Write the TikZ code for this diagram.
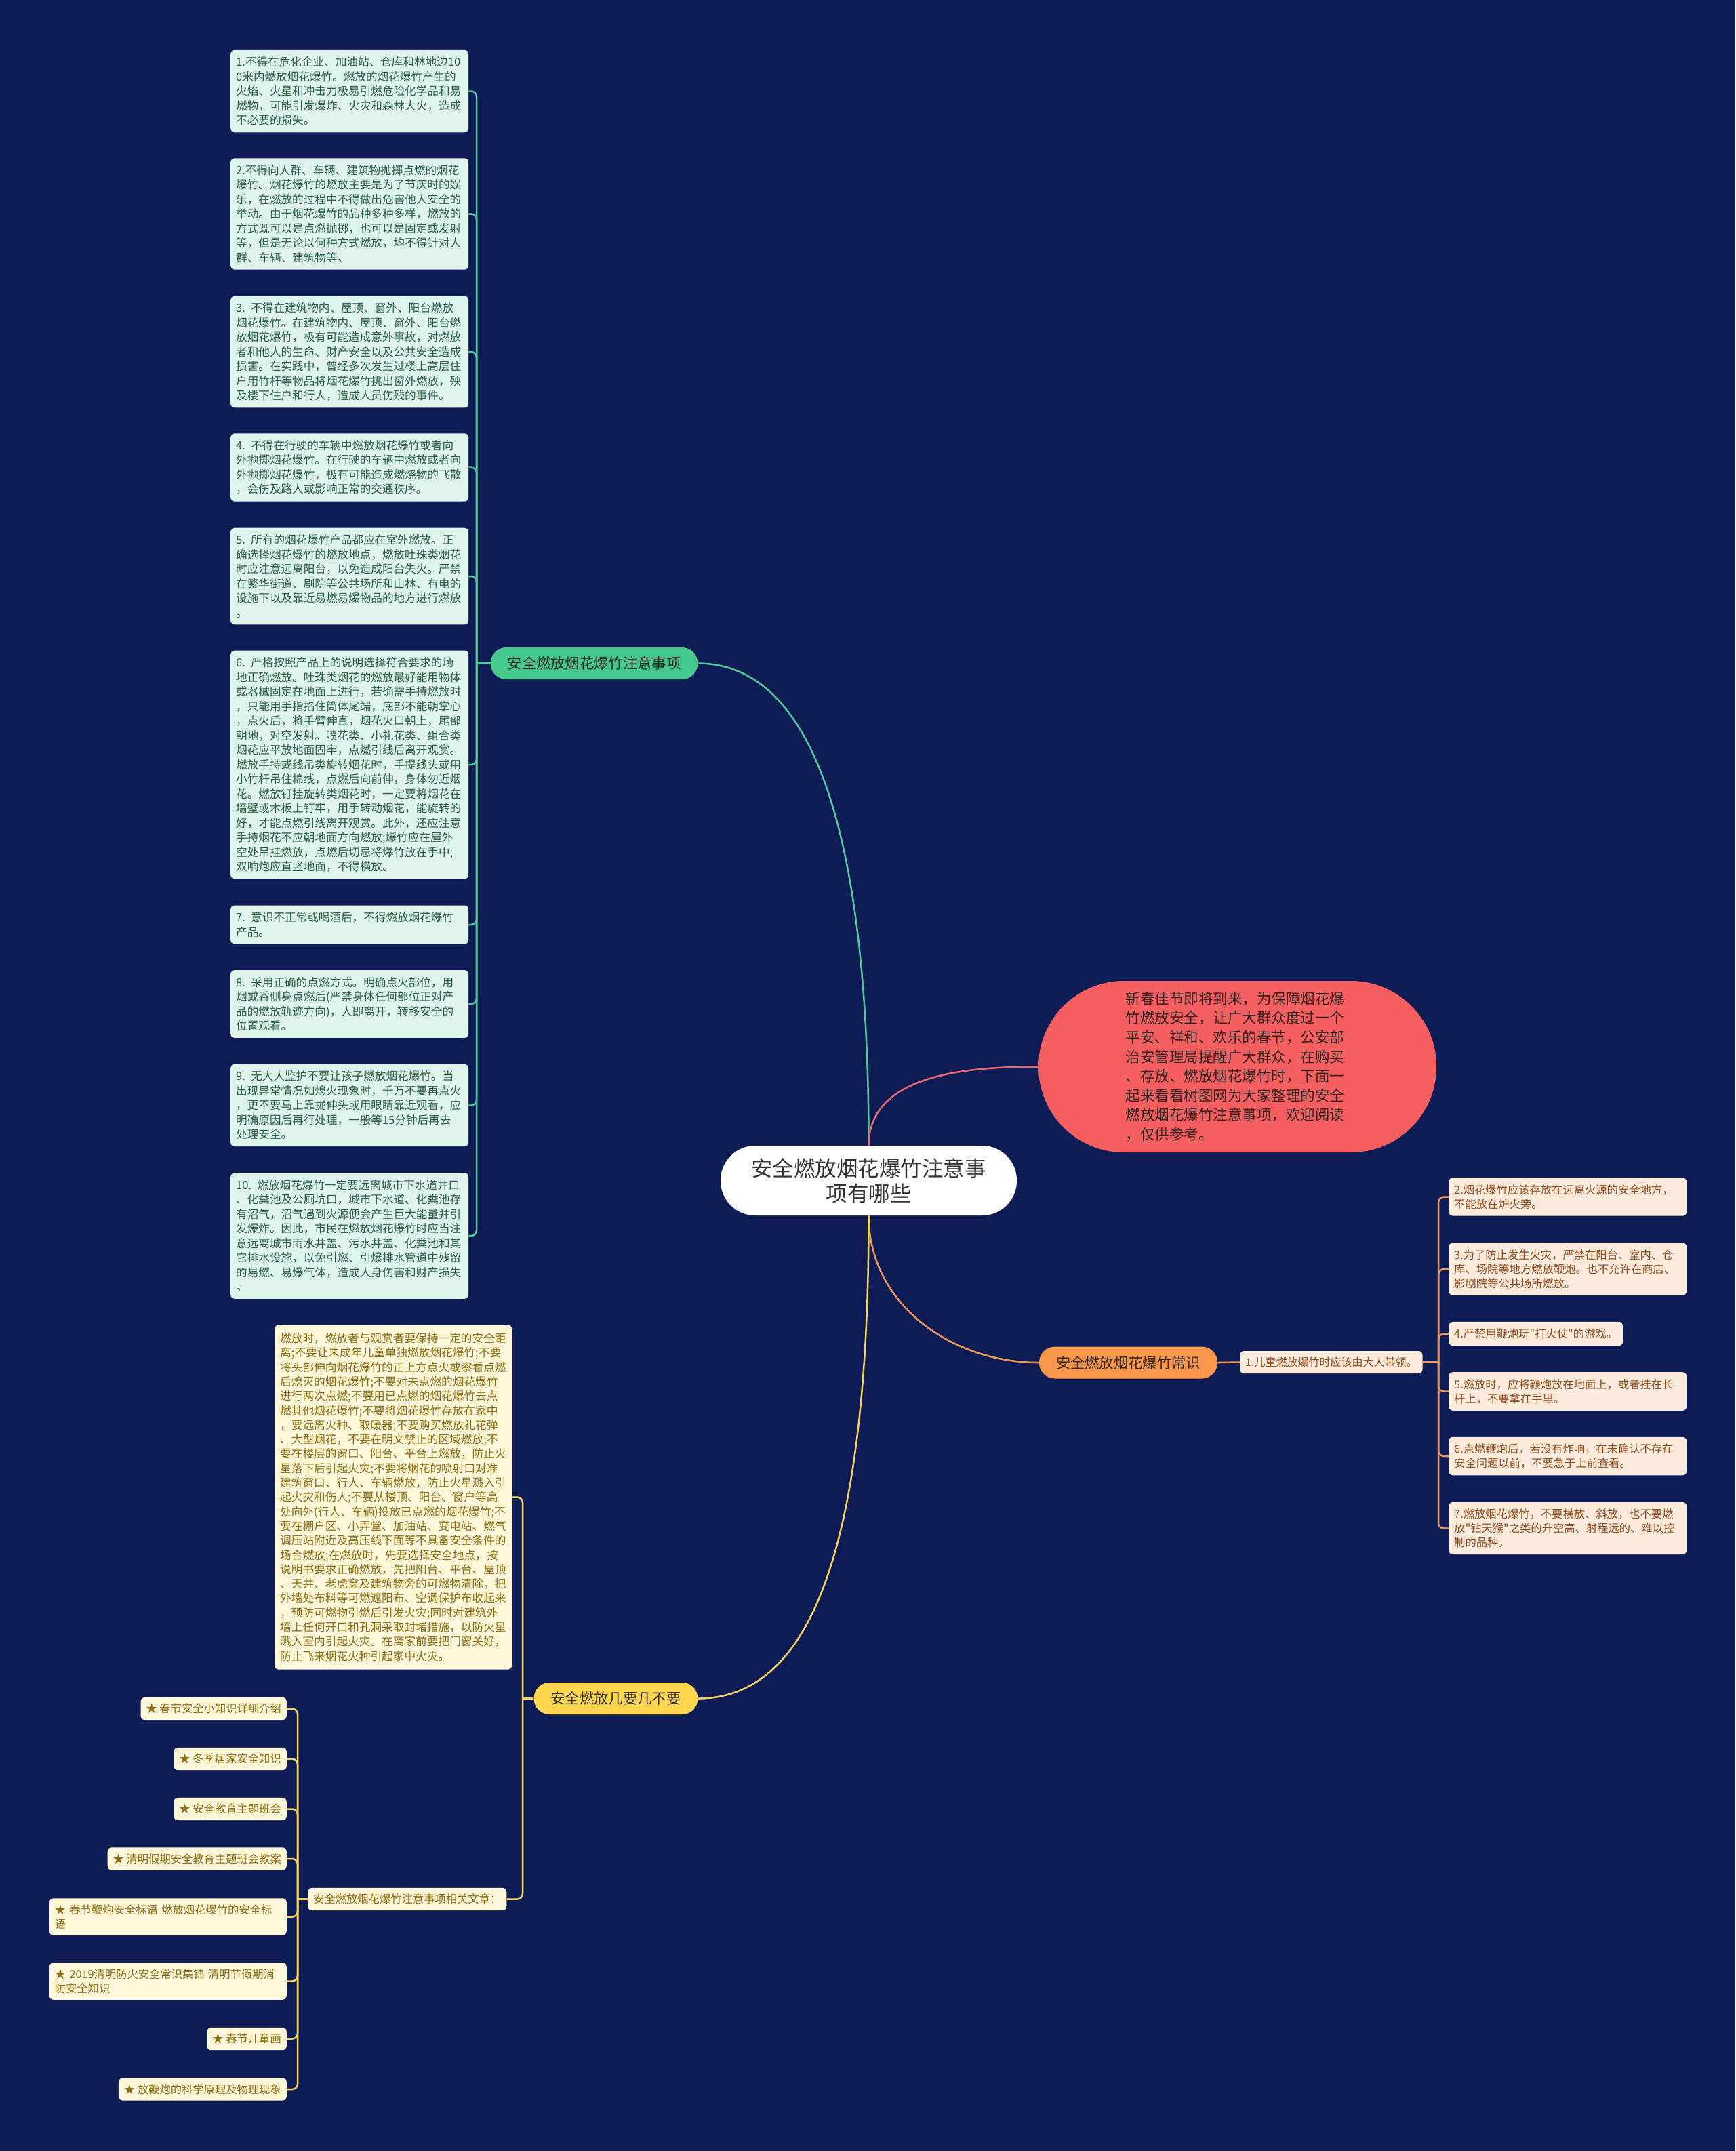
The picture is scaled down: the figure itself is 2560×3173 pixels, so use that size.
\documentclass[tikz,border=0pt]{standalone}
\usepackage{fontspec}
\setmainfont{Noto Sans CJK SC}[Ligatures=TeXOff]

\definecolor{bgnavy}{HTML}{0E1C55}
\definecolor{rootink}{HTML}{333333}
\definecolor{introfill}{HTML}{F55F5F}
\definecolor{introink}{HTML}{2E2424}
\definecolor{introwire}{HTML}{E86A72}
\definecolor{gmain}{HTML}{45C98C}
\definecolor{gwire}{HTML}{52C99A}
\definecolor{gfill}{HTML}{DFF4EC}
\definecolor{gink}{HTML}{2A5B45}
\definecolor{omain}{HTML}{F9964E}
\definecolor{owire}{HTML}{F3985C}
\definecolor{ofill}{HTML}{FDEBDD}
\definecolor{oink}{HTML}{8F4A1C}
\definecolor{ymain}{HTML}{FFD64D}
\definecolor{ywire}{HTML}{F4D35E}
\definecolor{yfill}{HTML}{FFF7DA}
\definecolor{yink}{HTML}{8B6C12}
\definecolor{brink}{HTML}{2E2A20}

\tikzset{
  rootnode/.style={fill=white, text=rootink, rounded corners=51pt, minimum width=437pt,
    minimum height=103pt, align=center, font=\fontsize{31.5}{37}\selectfont},
  intronode/.style={fill=introfill, text=introink, rounded corners=126pt, minimum width=587pt,
    minimum height=253pt, text width=330pt, align=left, font=\fontsize{21.5}{28.6}\selectfont},
  branch/.style={text=brink, rounded corners=23pt, minimum height=47pt, inner xsep=25pt,
    font=\fontsize{21.3}{25}\selectfont},
  leaf/.style={rounded corners=6pt, inner xsep=8pt, inner ysep=10pt, align=left},
  gbox/.style={leaf, fill=gfill, text=gink, text width=335pt, anchor=west,
    font=\fontsize{16.6}{21.5}\selectfont},
  obase/.style={leaf, fill=ofill, text=oink, anchor=west, font=\fontsize{16.3}{21}\selectfont},
  obox/.style={obase, text width=335pt},
  ybase/.style={leaf, fill=yfill, text=yink, font=\fontsize{16.3}{21.3}\selectfont},
  ybox/.style={ybase, text width=334pt},
  gline/.style={draw=gwire, line width=2.5pt},
  oline/.style={draw=owire, line width=2.5pt},
  yline/.style={draw=ywire, line width=2.5pt},
  rline/.style={draw=introwire, line width=2.5pt},
  hook/.style={rounded corners=8pt}
}

\begin{document}
\begin{tikzpicture}[x=1pt,y=-1pt]
    % 背景
    \fill[bgnavy] (0,0) rectangle (2560,3173);
    \useasboundingbox (0,0) rectangle (2560,3173);

    % 中心主题与导语
    \node[rootnode] (root) at (1281.5,1741.5) {安全燃放烟花爆竹注意事\\项有哪些};
    \node[intronode] (intro) at (1825.5,1573.5) {新春佳节即将到来，为保障烟花爆\\竹燃放安全，让广大群众度过一个\\平安、祥和、欢乐的春节，公安部\\治安管理局提醒广大群众，在购买\\、存放、燃放烟花爆竹时，下面一\\起来看看树图网为大家整理的安全\\燃放烟花爆竹注意事项，欢迎阅读\\，仅供参考。};

    % 三个分支
    \node[branch, fill=gmain] (gbr) at (876.5,978.5) {安全燃放烟花爆竹注意事项};
    \node[branch, fill=omain] (obr) at (1664.5,2010) {安全燃放烟花爆竹常识};
    \node[branch, fill=ymain] (ybr) at (908.5,2505.5) {安全燃放几要几不要};

    % 主干曲线
    \draw[gline] (gbr.east) .. controls +(140,0) and +(0,-540) .. (root.north);
    \draw[rline] (root.north) .. controls +(0,-105) and +(-105,0) .. (intro.west);
    \draw[oline] (root.south) .. controls +(0,130) and +(-130,0) .. (obr.west);
    \draw[yline] (root.south) .. controls +(0,557) and +(140,0) .. (ybr.east);

    % 注意事项 1-10
    \node[gbox] (g1) at (340,134.5) {1.不得在危化企业、加油站、仓库和林地边10\\0米内燃放烟花爆竹。燃放的烟花爆竹产生的\\火焰、火星和冲击力极易引燃危险化学品和易\\燃物，可能引发爆炸、火灾和森林大火，造成\\不必要的损失。};
    \node[gbox] (g2) at (340,315.5) {2.不得向人群、车辆、建筑物抛掷点燃的烟花\\爆竹。烟花爆竹的燃放主要是为了节庆时的娱\\乐，在燃放的过程中不得做出危害他人安全的\\举动。由于烟花爆竹的品种多种多样，燃放的\\方式既可以是点燃抛掷，也可以是固定或发射\\等，但是无论以何种方式燃放，均不得针对人\\群、车辆、建筑物等。};
    \node[gbox] (g3) at (340,519) {3. 不得在建筑物内、屋顶、窗外、阳台燃放\\烟花爆竹。在建筑物内、屋顶、窗外、阳台燃\\放烟花爆竹，极有可能造成意外事故，对燃放\\者和他人的生命、财产安全以及公共安全造成\\损害。在实践中，曾经多次发生过楼上高层住\\户用竹杆等物品将烟花爆竹挑出窗外燃放，殃\\及楼下住户和行人，造成人员伤残的事件。};
    \node[gbox] (g4) at (340,689.5) {4. 不得在行驶的车辆中燃放烟花爆竹或者向\\外抛掷烟花爆竹。在行驶的车辆中燃放或者向\\外抛掷烟花爆竹，极有可能造成燃烧物的飞散\\，会伤及路人或影响正常的交通秩序。};
    \node[gbox] (g5) at (340,850) {5. 所有的烟花爆竹产品都应在室外燃放。正\\确选择烟花爆竹的燃放地点，燃放吐珠类烟花\\时应注意远离阳台，以免造成阳台失火。严禁\\在繁华街道、剧院等公共场所和山林、有电的\\设施下以及靠近易燃易爆物品的地方进行燃放\\。};
    \node[gbox] (g6) at (340,1128) {6. 严格按照产品上的说明选择符合要求的场\\地正确燃放。吐珠类烟花的燃放最好能用物体\\或器械固定在地面上进行，若确需手持燃放时\\，只能用手指掐住筒体尾端，底部不能朝掌心\\，点火后，将手臂伸直，烟花火口朝上，尾部\\朝地，对空发射。喷花类、小礼花类、组合类\\烟花应平放地面固牢，点燃引线后离开观赏。\\燃放手持或线吊类旋转烟花时，手提线头或用\\小竹杆吊住棉线，点燃后向前伸，身体勿近烟\\花。燃放钉挂旋转类烟花时，一定要将烟花在\\墙壁或木板上钉牢，用手转动烟花，能旋转的\\好，才能点燃引线离开观赏。此外，还应注意\\手持烟花不应朝地面方向燃放;爆竹应在屋外\\空处吊挂燃放，点燃后切忌将爆竹放在手中;\\双响炮应直竖地面，不得横放。};
    \node[gbox] (g7) at (340,1364) {7. 意识不正常或喝酒后，不得燃放烟花爆竹\\产品。};
    \node[gbox] (g8) at (340,1481) {8. 采用正确的点燃方式。明确点火部位，用\\烟或香侧身点燃后(严禁身体任何部位正对产\\品的燃放轨迹方向)，人即离开，转移安全的\\位置观看。};
    \node[gbox] (g9) at (340,1630.5) {9. 无大人监护不要让孩子燃放烟花爆竹。当\\出现异常情况如熄火现象时，千万不要再点火\\，更不要马上靠拢伸头或用眼睛靠近观看，应\\明确原因后再行处理，一般等15分钟后再去\\处理安全。};
    \node[gbox] (g10) at (340,1823) {10. 燃放烟花爆竹一定要远离城市下水道井口\\、化粪池及公厕坑口，城市下水道、化粪池存\\有沼气，沼气遇到火源便会产生巨大能量并引\\发爆炸。因此，市民在燃放烟花爆竹时应当注\\意远离城市雨水井盖、污水井盖、化粪池和其\\它排水设施，以免引燃、引爆排水管道中残留\\的易燃、易爆气体，造成人身伤害和财产损失\\。};

    \coordinate (ghub) at (703,978.5);
    \draw[gline] (gbr.west) -- (ghub);
    \foreach \i in {1,...,10} \draw[gline,hook] (ghub) |- (g\i.east);

    % 常识
    \node[obase, font=\fontsize{16}{20}\selectfont, inner ysep=9pt] (o1) at (1829,2009.5) {1.儿童燃放爆竹时应该由大人带领。};
    \node[obox] (o2) at (2137,1765.5) {2.烟花爆竹应该存放在远离火源的安全地方，\\不能放在炉火旁。};
    \node[obox] (o3) at (2137,1872) {3.为了防止发生火灾，严禁在阳台、室内、仓\\库、场院等地方燃放鞭炮。也不允许在商店、\\影剧院等公共场所燃放。};
    \node[obase] (o4) at (2137,1967.5) {4.严禁用鞭炮玩"打火仗"的游戏。};
    \node[obox] (o5) at (2137,2052.5) {5.燃放时，应将鞭炮放在地面上，或者挂在长\\杆上，不要拿在手里。};
    \node[obox] (o6) at (2137,2148) {6.点燃鞭炮后，若没有炸响，在未确认不存在\\安全问题以前，不要急于上前查看。};
    \node[obox] (o7) at (2137,2254.5) {7.燃放烟花爆竹，不要横放、斜放，也不要燃\\放"钻天猴"之类的升空高、射程远的、难以控\\制的品种。};

    \coordinate (ohub) at (2122,2009.5);
    \draw[oline] (obr.east) -- (o1.west);
    \draw[oline] (o1.east) -- (ohub);
    \foreach \i in {2,...,7} \draw[oline,hook] (ohub) |- (o\i.west);

    % 几要几不要
    \node[ybox, anchor=west, font=\fontsize{16.67}{21.3}\selectfont, inner ysep=12pt] (ytxt) at (405,2208.5) {燃放时，燃放者与观赏者要保持一定的安全距\\离;不要让未成年儿童单独燃放烟花爆竹;不要\\将头部伸向烟花爆竹的正上方点火或察看点燃\\后熄灭的烟花爆竹;不要对未点燃的烟花爆竹\\进行两次点燃;不要用已点燃的烟花爆竹去点\\燃其他烟花爆竹;不要将烟花爆竹存放在家中\\，要远离火种、取暖器;不要购买燃放礼花弹\\、大型烟花，不要在明文禁止的区域燃放;不\\要在楼层的窗口、阳台、平台上燃放，防止火\\星落下后引起火灾;不要将烟花的喷射口对准\\建筑窗口、行人、车辆燃放，防止火星溅入引\\起火灾和伤人;不要从楼顶、阳台、窗户等高\\处向外(行人、车辆)投放已点燃的烟花爆竹;不\\要在棚户区、小弄堂、加油站、变电站、燃气\\调压站附近及高压线下面等不具备安全条件的\\场合燃放;在燃放时，先要选择安全地点，按\\说明书要求正确燃放，先把阳台、平台、屋顶\\、天井、老虎窗及建筑物旁的可燃物清除，把\\外墙处布料等可燃遮阳布、空调保护布收起来\\，预防可燃物引燃后引发火灾;同时对建筑外\\墙上任何开口和孔洞采取封堵措施，以防火星\\溅入室内引起火灾。在离家前要把门窗关好，\\防止飞来烟花火种引起家中火灾。};
    \node[ybase, anchor=west, inner ysep=9pt] (yrel) at (454,2801.5) {安全燃放烟花爆竹注意事项相关文章：};

    \coordinate (yhub) at (771,2505.5);
    \draw[yline] (ybr.west) -- (yhub);
    \draw[yline,hook] (yhub) |- (ytxt.east);
    \draw[yline,hook] (yhub) |- (yrel.east);

    % 相关文章
    \node[ybase, anchor=east, inner ysep=9pt] (l1) at (423,2520.5) {★ 春节安全小知识详细介绍};
    \node[ybase, anchor=east, inner ysep=9pt] (l2) at (423,2594.5) {★ 冬季居家安全知识};
    \node[ybase, anchor=east, inner ysep=9pt] (l3) at (423,2668.5) {★ 安全教育主题班会};
    \node[ybase, anchor=east, inner ysep=9pt] (l4) at (423,2742) {★ 清明假期安全教育主题班会教案};
    \node[ybox, anchor=east, inner ysep=9pt] (l5) at (423,2827.5) {★ 春节鞭炮安全标语 燃放烟花爆竹的安全标\\语};
    \node[ybox, anchor=east, inner ysep=9pt] (l6) at (423,2922.5) {★ 2019清明防火安全常识集锦 清明节假期消\\防安全知识};
    \node[ybase, anchor=east, inner ysep=9pt] (l7) at (423,3007.5) {★ 春节儿童画};
    \node[ybase, anchor=east, inner ysep=9pt] (l8) at (423,3082) {★ 放鞭炮的科学原理及物理现象};

    \coordinate (lhub) at (439,2801.5);
    \draw[yline] (yrel.west) -- (lhub);
    \foreach \i in {1,...,8} \draw[yline,hook] (lhub) |- (l\i.east);
\end{tikzpicture}
\end{document}
